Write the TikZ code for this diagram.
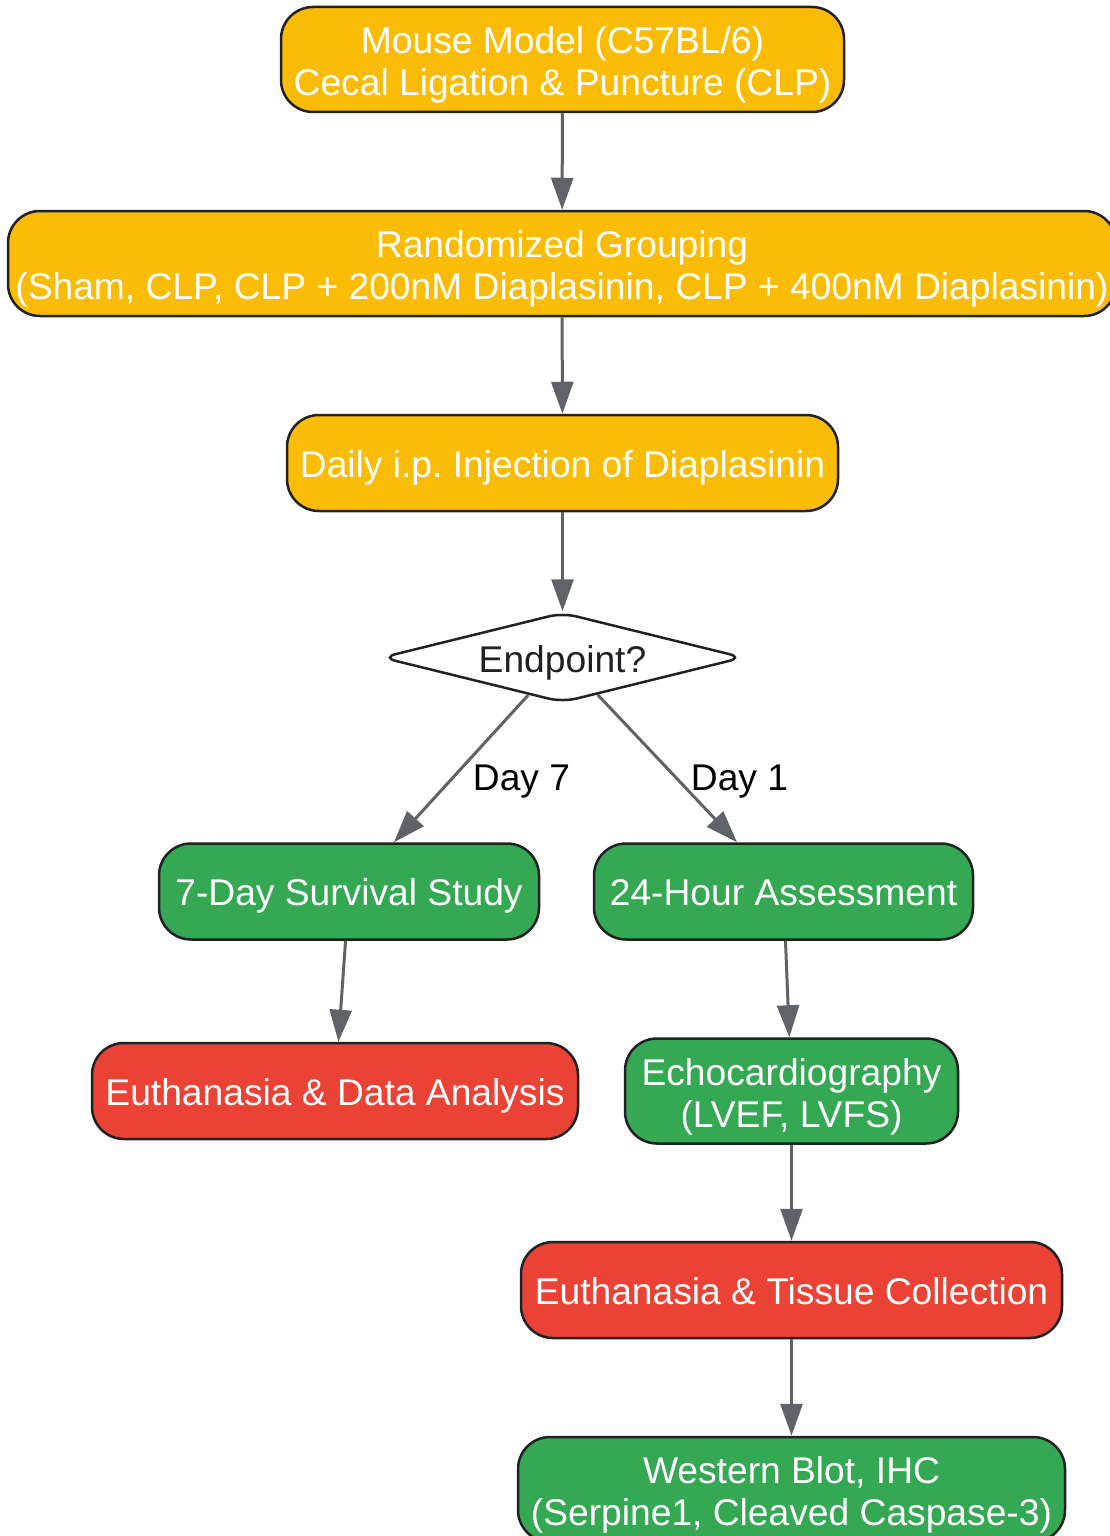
\documentclass[tikz,border=0pt]{standalone}
\usepackage{fontspec}
\setmainfont{Liberation Sans}
\usetikzlibrary{arrows.meta,shapes.geometric}
\definecolor{YellowClr}{HTML}{FBBC05}
\definecolor{GreenClr}{HTML}{34A853}
\definecolor{RedClr}{HTML}{EA4335}
\definecolor{EdgeClr}{HTML}{5F6368}
\definecolor{BorderClr}{HTML}{202124}
\newcommand{\TwoRows}[2]{\rule{0pt}{40pt}#1\\#2\rule[-10pt]{0pt}{0pt}}

\tikzset{
  OneRow/.style={execute at begin node={\rule{0pt}{38pt}},
    execute at end node={\rule[-10pt]{0pt}{0pt}}},
  StepBox/.style={draw=BorderClr,line width=2.5pt,rounded corners=32pt,
    text=white,align=center,inner sep=0pt,
    font=\fontsize{37.2}{42}\selectfont},
  YellowBox/.style={StepBox,fill=YellowClr,minimum height=105pt},
  GreenBox/.style={StepBox,fill=GreenClr},
  RedBox/.style={StepBox,fill=RedClr,minimum height=96pt,OneRow},
  Decision/.style={diamond,aspect=4,draw=BorderClr,fill=white,line width=2.5pt,
    rounded corners=14pt,inner sep=0pt,text=BorderClr,
    text height=29pt,text depth=0pt,
    font=\fontsize{37.2}{42}\selectfont},
  Flow/.style={draw=EdgeClr,line width=3pt,-{Triangle[length=32pt,width=22pt]}},
  DayLbl/.style={OneRow,inner sep=0pt,font=\fontsize{37.2}{42}\selectfont,text=black},
}

\begin{document}
\begin{tikzpicture}[x=1pt,y=-1pt]
\useasboundingbox (0,0) rectangle (1110,1536);

% main line
\node[YellowBox,minimum width=563pt] (Model) at (562.5,59.5)
  {\TwoRows{Mouse Model (C57BL/6)}{Cecal Ligation \& Puncture (CLP)}};
\node[YellowBox,minimum width=1108pt] (Group) at (562,263.5)
  {\TwoRows{Randomized Grouping}{(Sham, CLP, CLP + 200nM Diaplasinin, CLP + 400nM Diaplasinin)}};
\node[YellowBox,OneRow,minimum width=551pt,minimum height=96pt] (Inject) at (562.5,463)
  {Daily i.p.\ Injection of Diaplasinin};
\node[Decision,minimum width=362pt,minimum height=90pt] (End) at (562.5,657.5)
  {Endpoint?};

% day 7 branch
\node[GreenBox,OneRow,minimum width=380pt,minimum height=96pt] (Surv) at (349,891.5)
  {7-Day Survival Study};
\node[RedBox,minimum width=486pt] (EuthData) at (335,1091)
  {Euthanasia \& Data Analysis};

% day 1 branch
\node[GreenBox,OneRow,minimum width=379pt,minimum height=96pt] (Assess) at (783.5,891.5)
  {24-Hour Assessment};
\node[GreenBox,minimum width=333pt,minimum height=105pt] (Echo) at (791.5,1091)
  {\TwoRows{Echocardiography}{(LVEF, LVFS)}};
\node[RedBox,minimum width=541pt] (EuthTis) at (791.5,1290)
  {Euthanasia \& Tissue Collection};
\node[GreenBox,minimum width=547pt,minimum height=105pt] (Blot) at (791.5,1489.5)
  {\TwoRows{Western Blot, IHC}{(Serpine1, Cleaved Caspase-3)}};

\draw[Flow] (Model) -- (Group);
\draw[Flow] (Group) -- (Inject);
\draw[Flow] (Inject) -- (End);
\draw[Flow] (End) -- (Surv);
\draw[Flow] (End) -- (Assess);
\draw[Flow] (Surv) -- (EuthData);
\draw[Flow] (Assess) -- (Echo);
\draw[Flow] (Echo) -- (EuthTis);
\draw[Flow] (EuthTis) -- (Blot);

\node[DayLbl] (LblSeven) at (521.5,776) {Day 7};
\node[DayLbl] (LblOne) at (739.5,776) {Day 1};

\end{tikzpicture}
\end{document}
